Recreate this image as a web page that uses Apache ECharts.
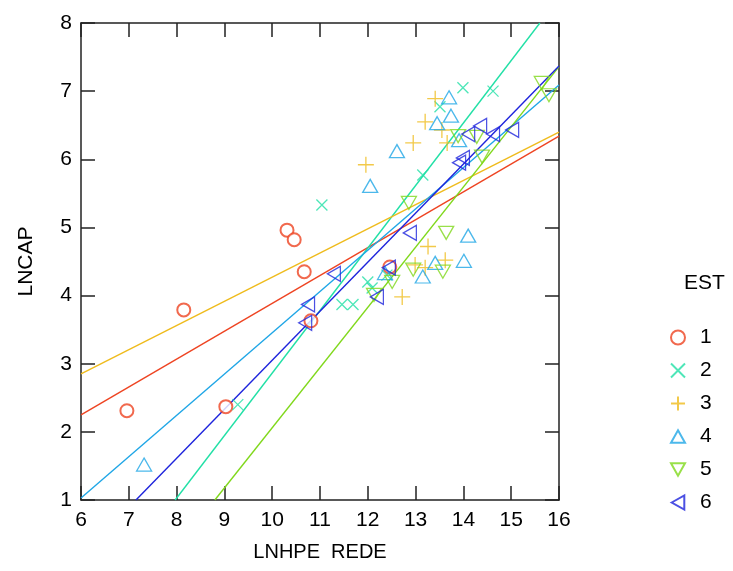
<!DOCTYPE html>
<html>
<head>
<meta charset="utf-8">
<script src="https://cdn.jsdelivr.net/npm/echarts@6/dist/echarts.min.js"></script>
<style>
html,body{margin:0;padding:0;background:#fff;}
#chart{width:733px;height:571px;}
</style>
</head>
<body>
<div id="chart"></div>
<script>
// ---- data ----
const groupNames = ['1','2','3','4','5','6'];
const est1X = [6.96, 8.15, 9.03, 10.31, 10.46, 10.67, 10.81, 12.46];
const est1Y = [2.31, 3.79, 2.37, 4.96, 4.82, 4.35, 3.63, 4.42];
const est2X = [11.04, 9.28, 11.46, 11.69, 12.00, 12.09, 12.40, 13.15, 13.51, 13.99, 14.62];
const est2Y = [5.33, 2.40, 3.87, 3.87, 4.20, 4.11, 4.30, 5.77, 6.77, 7.05, 7.00];
const est3X = [13.41, 13.20, 13.55, 12.95, 13.66, 11.96, 13.26, 13.62, 12.99, 13.20, 12.72];
const est3Y = [6.89, 6.55, 6.43, 6.24, 6.24, 5.92, 4.72, 4.52, 4.45, 4.41, 3.98];
const est4X = [7.32, 13.70, 13.74, 13.45, 12.61, 12.05, 13.91, 14.10, 14.01, 13.41, 13.15, 12.36];
const est4Y = [1.52, 6.91, 6.64, 6.53, 6.12, 5.61, 6.28, 4.88, 4.51, 4.48, 4.28, 4.33];
const est5X = [12.86, 13.64, 13.89, 14.28, 14.39, 15.64, 15.79, 12.95, 13.57, 12.51, 12.13];
const est5Y = [5.36, 4.92, 6.34, 6.33, 6.04, 7.12, 6.94, 4.38, 4.35, 4.20, 4.01];
const est6X = [10.75, 10.69, 11.29, 12.88, 13.91, 13.99, 14.10, 14.35, 14.62, 15.02, 12.44, 12.19];
const est6Y = [3.87, 3.60, 4.32, 4.92, 5.95, 6.02, 6.37, 6.49, 6.37, 6.43, 4.41, 3.98];
// fitted lines: where each enters and leaves the plot box
const lineStartX = [6, 7.97, 6, 6, 8.80, 7.15];
const lineStartY = [2.25, 1, 2.85, 1.03, 1, 1];
const lineEndX = [16, 15.6, 16, 16, 16, 16];
const lineEndY = [6.34, 8, 6.40, 7.09, 7.36, 7.37];
const xTicks = [6,7,8,9,10,11,12,13,14,15,16];
const yTicks = [1,2,3,4,5,6,7,8];

// ---- styling ----
const colors = ['#ee4422', '#22e0a6', '#efbb1c', '#1fa6e6', '#80d81c', '#1e24dc'];
const symbols = [
  'emptyCircle',
  'path://M0,0L10,10M0,10L10,0',
  'path://M5,0L5,10M0,5L10,5',
  'path://M5,0L10,9L0,9Z',
  'path://M0,0L10,0L5,9Z',
  'path://M0,5L9,0L9,10Z'
];
const sizes = [13, 11, 16, [15,13], [15,13], [13,15]];
const xs = [est1X, est2X, est3X, est4X, est5X, est6X];
const ys = [est1Y, est2Y, est3Y, est4Y, est5Y, est6Y];

const font = 'Liberation Sans, Arial, Helvetica, sans-serif';
const series = [];
for (let i = 0; i < 6; i++) {
  series.push({
    type: 'line',
    name: 'fit' + groupNames[i],
    data: [[lineStartX[i], lineStartY[i]], [lineEndX[i], lineEndY[i]]],
    showSymbol: false,
    symbol: 'none',
    lineStyle: { color: colors[i], width: 1.4 },
    silent: true,
    animation: false,
    z: 2
  });
}
for (let i = 0; i < 6; i++) {
  series.push({
    type: 'scatter',
    name: groupNames[i],
    data: xs[i].map((v, k) => [v, ys[i][k]]),
    symbol: symbols[i],
    symbolSize: sizes[i],
    itemStyle: i === 0 ? { color: colors[i], borderColor: colors[i], borderWidth: 1.3 }
                       : { color: 'transparent', borderColor: colors[i], borderWidth: 1.3 },
    animation: false,
    z: 3
  });
}

const axisLine = { show: true, lineStyle: { color: '#222', width: 1.5 } };
const tick = { show: true, inside: true, length: 14, lineStyle: { color: '#222', width: 1.5 } };

const option = {
  backgroundColor: '#fff',
  animation: false,
  title: {
    text: 'EST', left: 679, top: 268,
    textStyle: { fontFamily: font, fontSize: 21, fontWeight: 'normal', color: '#000' }
  },
  legend: {
    data: groupNames,
    orient: 'vertical',
    left: 665, top: 322,
    itemWidth: 14, itemHeight: 14, itemGap: 12,
    textStyle: { fontFamily: font, fontSize: 21, color: '#000', padding: [0,0,0,10] }
  },
  grid: { left: 81, right: 174, top: 23, bottom: 71, containLabel: false },
  xAxis: [{
    type: 'value', min: 6, max: 16, interval: 1,
    name: 'LNHPE  REDE', nameLocation: 'middle', nameGap: 42,
    nameTextStyle: { fontFamily: font, fontSize: 20, color: '#000' },
    axisLine: axisLine, axisTick: tick,
    axisLabel: { fontFamily: font, fontSize: 21, color: '#000', margin: 10,
                 formatter: v => xTicks.includes(v) ? String(v) : '' },
    splitLine: { show: false }
  }, {
    type: 'value', min: 6, max: 16, interval: 1, position: 'top',
    axisLine: axisLine, axisTick: tick, axisLabel: { show: false }, splitLine: { show: false }
  }],
  yAxis: [{
    type: 'value', min: 1, max: 8, interval: 1,
    name: 'LNCAP', nameLocation: 'middle', nameGap: 44, nameRotate: 90,
    nameTextStyle: { fontFamily: font, fontSize: 21, color: '#000' },
    axisLine: axisLine, axisTick: tick,
    axisLabel: { fontFamily: font, fontSize: 21, color: '#000', margin: 9,
                 formatter: v => yTicks.includes(v) ? String(v) : '' },
    splitLine: { show: false }
  }, {
    type: 'value', min: 1, max: 8, interval: 1, position: 'right',
    axisLine: axisLine, axisTick: tick, axisLabel: { show: false }, splitLine: { show: false }
  }],
  series: series
};

const chart = echarts.init(document.getElementById('chart'), null, { renderer: 'canvas' });
chart.setOption(option);
</script>
</body>
</html>
